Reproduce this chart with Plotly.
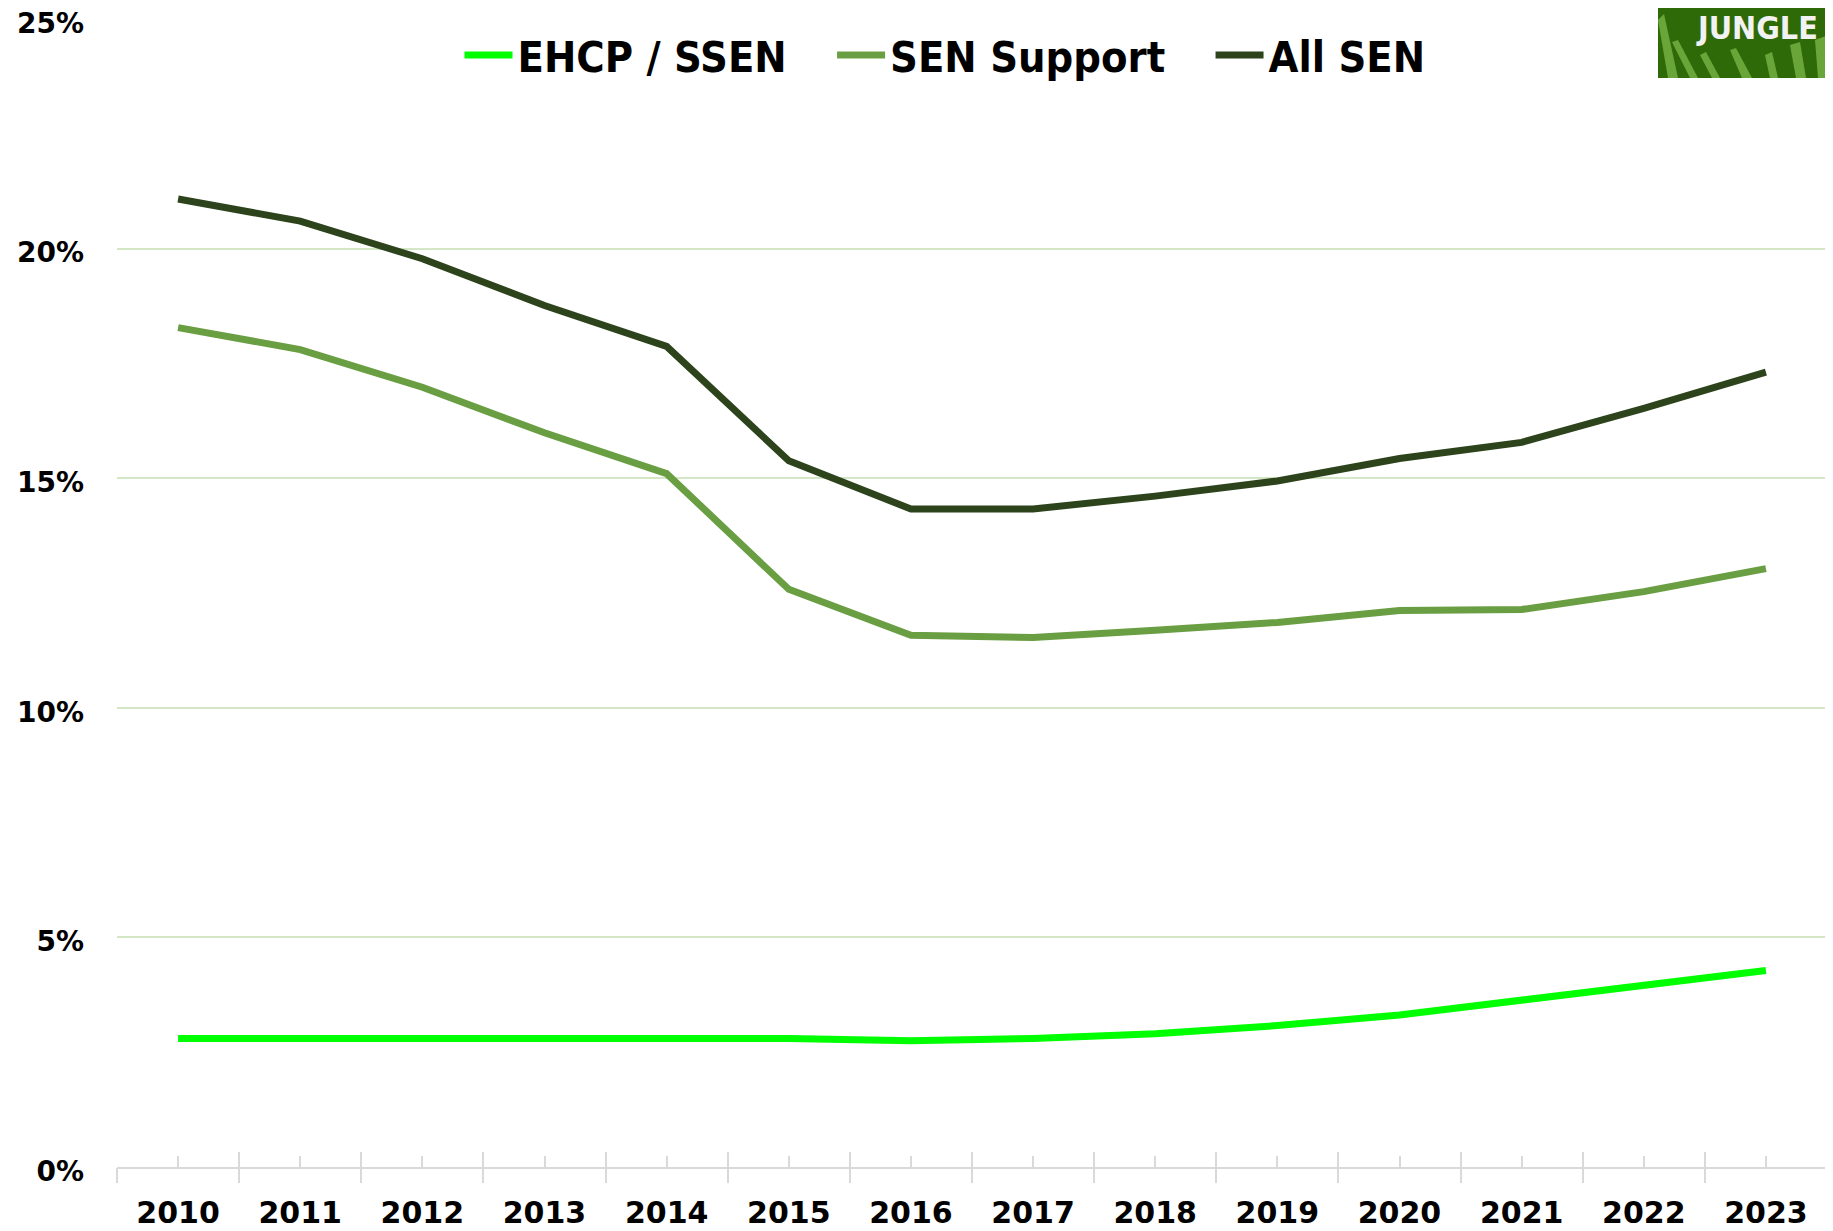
import plotly.graph_objects as go

years = [2010, 2011, 2012, 2013, 2014, 2015, 2016, 2017, 2018, 2019, 2020, 2021, 2022, 2023]
year_labels = [str(y) for y in years]
ehcp = [2.8, 2.8, 2.8, 2.8, 2.8, 2.8, 2.75, 2.8, 2.9, 3.08, 3.31, 3.64, 3.95, 4.28]
sen_support = [18.28, 17.8, 16.98, 15.99, 15.1, 12.58, 11.58, 11.53, 11.69, 11.86, 12.12, 12.14, 12.53, 13.03]
all_sen = [21.08, 20.6, 19.78, 18.76, 17.87, 15.38, 14.33, 14.33, 14.61, 14.94, 15.43, 15.78, 16.52, 17.31]
y_ticks = [0, 5, 10, 15, 20, 25]
y_tick_labels = [f"{v}%" for v in y_ticks]

series_names = ["EHCP / SSEN", "SEN Support", "All SEN"]
series_colors = ["#00ff00", "#6a9e42", "#2c431b"]

# page body has an 8px margin: figure is shifted by OFF px
OFF = 8
W, H = 1833 - OFF, 1231 - OFF
ML, MR, MT, MB = 117 - OFF, 6, 19 - OFF, 64
PW, PH = W - ML - MR, H - MT - MB
YMAX = 25


def px(x):  # reference pixel -> paper
    return (x - OFF - ML) / PW


def py(y):
    return (H - MB - (y - OFF)) / PH


fig = go.Figure()
for name, vals, col in zip(series_names, [ehcp, sen_support, all_sen], series_colors):
    fig.add_trace(go.Scatter(x=years, y=vals, name=name + "   ", mode="lines",
                             line=dict(color=col, width=7)))

xr = [years[0] - 0.5, years[-1] + 0.5]
boundaries = [y - 0.5 for y in years] + [years[-1] + 0.5]
axis_gray = "#d9d9d9"
heavy = "DejaVu Sans, sans-serif"

fig.update_layout(
    width=W, height=H,
    margin=dict(l=ML, r=MR, t=MT, b=MB, autoexpand=False),
    paper_bgcolor="white", plot_bgcolor="white",
    showlegend=True,
    legend=dict(orientation="h", x=px(965), xanchor="center", y=py(55), yanchor="middle",
                font=dict(family="DejaVu Sans Condensed, sans-serif",
                          size=43, color="black", weight="bold"),
                bgcolor="rgba(0,0,0,0)", itemwidth=48),
    xaxis=dict(range=xr, tickmode="array", tickvals=years, ticktext=year_labels,
               ticks="inside", ticklen=11, tickwidth=2, tickcolor=axis_gray,
               showline=True, linecolor=axis_gray, linewidth=2, showgrid=False,
               zeroline=False, tickfont=dict(family=heavy, size=30, color="black", weight="bold"),
               ticklabelstandoff=18, ticklabeloverflow="allow", automargin=False, fixedrange=True),
    xaxis2=dict(range=xr, overlaying="x", anchor="y", side="bottom", tickmode="array",
                tickvals=boundaries, ticks="inside", ticklen=15, tickwidth=2, tickcolor=axis_gray,
                showticklabels=False, showgrid=False, zeroline=False, showline=False),
    xaxis3=dict(range=xr, overlaying="x", anchor="y", side="bottom", tickmode="array",
                tickvals=boundaries, ticks="outside", ticklen=15, tickwidth=2, tickcolor=axis_gray,
                showticklabels=False, showgrid=False, zeroline=False, showline=False),
    yaxis=dict(range=[0, YMAX], tickmode="array", tickvals=y_ticks, ticktext=y_tick_labels,
               showgrid=True, gridcolor="#d3e6c6", gridwidth=2, zeroline=False,
               showline=False, ticks="", tickfont=dict(family=heavy, size=28, color="black", weight="bold"),
               ticklabelstandoff=32, ticklabelshift=4, ticklabeloverflow="allow",
               automargin=False, fixedrange=True),
)

# invisible anchors so the overlay axes render
for ax in ["x2", "x3"]:
    fig.add_trace(go.Scatter(x=[xr[0]], y=[0], xaxis=ax, yaxis="y", mode="markers",
                             marker=dict(opacity=0), showlegend=False, hoverinfo="skip"))

# Logo block (top right)
logo_bg = "#2f6a08"
stripe = "#6aa53a"
x0, x1, y0, y1 = px(1658), px(1833 + 2), py(78), py(OFF - 2)
fig.add_shape(type="rect", xref="paper", yref="paper", x0=x0, x1=x1, y0=y0, y1=y1,
              fillcolor=logo_bg, line=dict(width=0), layer="above")
stripes = [
    [(1658, 20), (1668, 78), (1678, 78), (1664, 14)],
    [(1672, 42), (1690, 78), (1698, 78), (1678, 40)],
    [(1700, 55), (1712, 78), (1720, 78), (1706, 52)],
    [(1730, 50), (1742, 78), (1752, 78), (1736, 48)],
    [(1765, 55), (1770, 78), (1778, 78), (1772, 52)],
    [(1790, 45), (1796, 78), (1806, 78), (1800, 42)],
    [(1815, 40), (1818, 78), (1826, 78), (1826, 36)],
]
for poly in stripes:
    path = "M " + " L ".join(f"{px(a):.5f},{py(b):.5f}" for a, b in poly) + " Z"
    fig.add_shape(type="path", xref="paper", yref="paper", path=path,
                  fillcolor=stripe, line=dict(width=0), layer="above")
fig.add_annotation(text="JUNGLE", xref="paper", yref="paper", x=px(1757), y=py(28),
                   xanchor="center", yanchor="middle", showarrow=False,
                   font=dict(family="DejaVu Sans Condensed, sans-serif",
                             size=32, color="#f2f2f2", weight="bold"))

fig.write_html("out.html")
